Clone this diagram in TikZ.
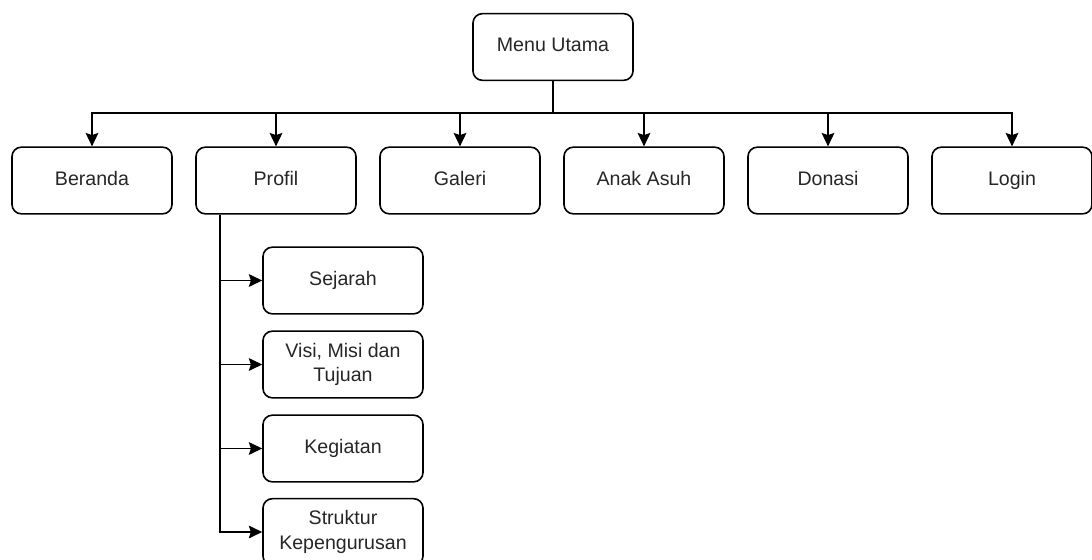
\documentclass[tikz,border=0pt]{standalone}
\usepackage{fontspec}
\setmainfont{Liberation Sans}
\usetikzlibrary{arrows.meta}
\begin{document}
\begin{tikzpicture}[x=0.75pt,y=-0.75pt,
	every node/.style={draw,rounded corners=7pt,line width=1.2pt,
	minimum width=120pt,minimum height=50pt,align=center,
	font=\fontsize{14.7}{18.5}\selectfont,text=black!85},
	onerow/.style={text height=0.72em,text depth=0pt},
	link/.style={line width=1.2pt,-{Stealth[length=10pt,width=9.5pt,inset=1.5pt]}}]
\useasboundingbox (0,0) rectangle (1092,560);
\node[onerow] (menu) at (553,47) {Menu Utama};
\node[onerow] (beranda) at (92,180.5) {Beranda};
\node[onerow] (profil) at (276,180.5) {Profil};
\node[onerow] (galeri) at (460,180.5) {Galeri};
\node[onerow] (anak) at (644,180.5) {Anak Asuh};
\node[onerow] (donasi) at (828,180.5) {Donasi};
\node[onerow] (login) at (1012,180.5) {Login};
\node[onerow] (sejarah) at (343,280.5) {Sejarah};
\node (visi) at (343,364.5) {Visi, Misi dan\\Tujuan};
\node[onerow] (kegiatan) at (343,448.5) {Kegiatan};
\node (struktur) at (343,532) {Struktur\\Kepengurusan};
\foreach \n in {beranda,profil,galeri,anak,donasi,login}
	\draw[link] (menu.south) -- ++(0,32) -| (\n.north);
\foreach \n in {sejarah,visi,kegiatan,struktur}
	\draw[link] ([xshift=18.75pt]profil.south west) |- (\n.west);
\end{tikzpicture}
\end{document}
